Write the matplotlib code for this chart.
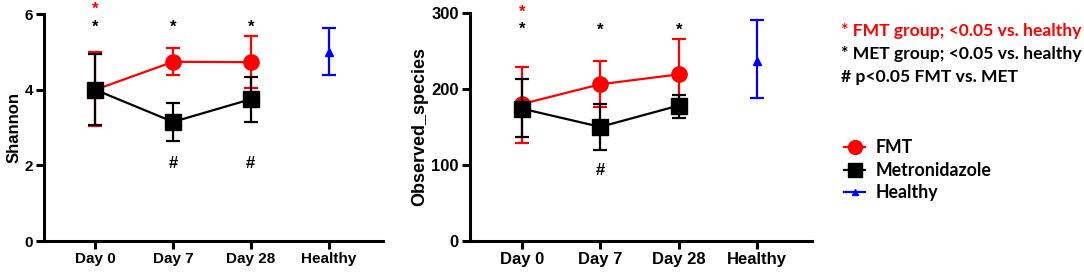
import matplotlib.pyplot as plt
from matplotlib.lines import Line2D

days = ["Day 0", "Day 7", "Day 28"]
xlabels = ["Day 0", "Day 7", "Day 28", "Healthy"]

# Shannon panel
sh_fmt = [4.0, 4.74, 4.73]
sh_fmt_lo = [3.04, 4.39, 4.04]
sh_fmt_hi = [5.01, 5.10, 5.43]
sh_met = [4.0, 3.15, 3.75]
sh_met_lo = [3.07, 2.65, 3.14]
sh_met_hi = [4.95, 3.64, 4.34]
sh_healthy = 4.99
sh_healthy_lo = 4.38
sh_healthy_hi = 5.64

# Observed species panel
ob_fmt = [180, 206, 219]
ob_fmt_lo = [129, 176, 172]
ob_fmt_hi = [229, 237, 266]
ob_met = [174, 150, 178]
ob_met_lo = [137, 120, 162]
ob_met_hi = [213, 180, 192]
ob_healthy = 237
ob_healthy_lo = 188
ob_healthy_hi = 290

RED = "#ff0000"
BLUE = "#0000ff"


def panel(ax, fmt, flo, fhi, met, mlo, mhi, h, hlo, hhi, fs):
    x = [0, 1, 2]
    ax.errorbar(x, fmt, yerr=[[m - l for m, l in zip(fmt, flo)], [u - m for m, u in zip(fmt, fhi)]],
                color=RED, marker="o", markersize=11, lw=1.6, elinewidth=1.6,
                capsize=4.8, capthick=1.6, zorder=3)
    ax.errorbar(x, met, yerr=[[m - l for m, l in zip(met, mlo)], [u - m for m, u in zip(met, mhi)]],
                color="black", marker="s", markersize=12, lw=1.6, elinewidth=1.6,
                capsize=4.8, capthick=1.6, zorder=4)
    ax.errorbar([3], [h], yerr=[[h - hlo], [hhi - h]], color=BLUE, marker="^",
                markersize=6, elinewidth=1.6, capsize=4.8, capthick=1.6, zorder=3)
    ax.set_xticks([0, 1, 2, 3])
    ax.set_xticklabels(xlabels, fontweight="bold", fontsize=fs)
    ax.set_xlim(-0.66, 3.7)
    for lab in ax.get_yticklabels():
        lab.set_fontweight("bold")
        lab.set_fontsize(fs)
    ax.spines["top"].set_visible(False)
    ax.spines["right"].set_visible(False)
    ax.spines["left"].set_linewidth(2.2)
    ax.spines["bottom"].set_linewidth(2.2)
    ax.tick_params(direction="out", length=6, width=2.2, pad=2)


plt.rcParams["font.family"] = ["Liberation Sans", "DejaVu Sans"]
fig = plt.figure(figsize=(10.84, 2.76), dpi=100)

ax1 = fig.add_axes([0.0406, 0.1268, 0.3127, 0.822])
ax1.set_ylim(0, 6)
ax1.set_yticks([0, 2, 4, 6])
panel(ax1, sh_fmt, sh_fmt_lo, sh_fmt_hi, sh_met, sh_met_lo, sh_met_hi,
      sh_healthy, sh_healthy_lo, sh_healthy_hi, 11)
ax1.set_ylabel("Shannon", fontweight="bold", fontsize=12, labelpad=2)
ax1.text(0, 6.0, "*", color=RED, ha="center", va="baseline", fontsize=12, fontweight="bold", clip_on=False)
for xi in [0, 1, 2]:
    ax1.text(xi, 5.54, "*", color="black", ha="center", va="baseline", fontsize=12, fontweight="bold")
for xi in [1, 2]:
    ax1.text(xi, 2.06, "#", color="black", ha="center", va="center", fontsize=12, fontweight="bold")

ax2 = fig.add_axes([0.4336, 0.1268, 0.3155, 0.827])
ax2.set_ylim(0, 300)
ax2.set_yticks([0, 100, 200, 300])
panel(ax2, ob_fmt, ob_fmt_lo, ob_fmt_hi, ob_met, ob_met_lo, ob_met_hi,
      ob_healthy, ob_healthy_lo, ob_healthy_hi, 12)
ax2.set_ylabel("Observed_species", fontweight="bold", fontsize=13, labelpad=2)
ax2.text(0, 295, "*", color=RED, ha="center", va="baseline", fontsize=12, fontweight="bold", clip_on=False)
ax2.text(0, 273, "*", color="black", ha="center", va="baseline", fontsize=12, fontweight="bold")
for xi in [1, 2]:
    ax2.text(xi, 271.5, "*", color="black", ha="center", va="baseline", fontsize=12, fontweight="bold")
ax2.text(1, 93, "#", color="black", ha="center", va="center", fontsize=12, fontweight="bold")

# significance key
key_font = ["Lato", "DejaVu Sans"]
fig.text(0.776, 1 - 31 / 276, "* FMT group; <0.05 vs. healthy", color=RED, fontsize=12.6,
         fontweight="bold", family=key_font, va="center")
fig.text(0.776, 1 - 54 / 276, "* MET group; <0.05 vs. healthy", color="black", fontsize=12.6,
         fontweight="bold", family=key_font, va="center")
fig.text(0.776, 1 - 77 / 276, "# p<0.05 FMT vs. MET", color="black", fontsize=12.6,
         fontweight="bold", family=key_font, va="center")

handles = [
    Line2D([], [], color=RED, marker="o", markersize=10, lw=1.6),
    Line2D([], [], color="black", marker="s", markersize=10, lw=1.6),
    Line2D([], [], color=BLUE, marker="^", markersize=5, lw=1.6),
]
fig.legend(handles, ["FMT", "Metronidazole", "Healthy"], loc="upper left",
           bbox_to_anchor=(0.772, 1 - 132 / 276), frameon=False, handlelength=1.2,
           handletextpad=0.6, labelspacing=0.32, borderaxespad=0,
           prop={"family": key_font, "weight": "bold", "size": 12.8})

fig.savefig("out.png", dpi=100)
